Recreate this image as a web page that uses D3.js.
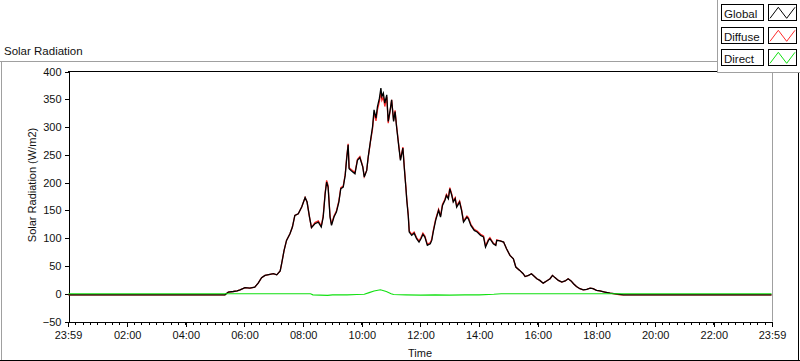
<!DOCTYPE html>
<html>
<head>
<meta charset="utf-8">
<script src="https://cdn.jsdelivr.net/npm/d3@7"></script>
<style>
  html, body { margin: 0; padding: 0; background: #fff; }
  svg { display: block; }
  text { font-family: "Liberation Sans", Arial, sans-serif; fill: #111; }
</style>
</head>
<body>
<svg id="chart" width="800" height="361"></svg>
<script>
// ---------------- DATA ----------------
const chartTitle = "Solar Radiation";
const yAxisTitle = "Solar Radiation (W/m2)";
const xAxisTitle = "Time";
const seriesNames = ["Global", "Diffuse", "Direct"];
const seriesColors = ["#000000", "#ff2a2a", "#11e011"];

const times = [
  "00:00","05:20","05:27","05:37","05:45","05:51","06:01","06:11","06:21","06:28",
  "06:35","06:42","06:52","06:59","07:06","07:13","07:16","07:21","07:26","07:33",
  "07:38","07:43","07:50","07:57","08:04","08:08","08:13","08:17","08:24","08:31",
  "08:37","08:41","08:45","08:48","08:51","08:55","08:58","09:03","09:08","09:13",
  "09:17","09:22","09:26","09:29","09:32","09:34","09:39","09:46","09:51","09:56",
  "10:02","10:05","10:10","10:13","10:18","10:22","10:25","10:29","10:32","10:36",
  "10:39","10:41","10:44","10:47","10:51","10:54","10:58","11:01","11:05","11:08",
  "11:11","11:16","11:19","11:24","11:27","11:30","11:32","11:35","11:37","11:42",
  "11:47","11:52","11:57","12:01","12:05","12:09","12:14","12:20","12:23","12:26",
  "12:31","12:37","12:41","12:45","12:50","12:53","12:57","13:00","13:04","13:07",
  "13:11","13:14","13:20","13:24","13:28","13:35","13:38","13:43","13:50","13:56",
  "14:03","14:09","14:13","14:19","14:22","14:29","14:34","14:36","14:43","14:50",
  "14:56","15:03","15:10","15:15","15:23","15:30","15:34","15:41","15:47","15:52",
  "15:58","16:04","16:11","16:18","16:25","16:30","16:35","16:42","16:49","16:56",
  "17:02","17:08","17:13","17:19","17:26","17:33","17:40","17:47","17:53","18:00",
  "18:07","18:17","18:28","18:48","18:55","23:58"
];

const globalVals = [
  -2, -2, 3, 4, 5, 7, 11, 10, 12, 19,
  29, 33, 35, 36, 34, 41, 54, 78, 96, 108,
  120, 141, 144, 156, 173, 165, 138, 119, 126, 129,
  120, 138, 180, 201, 192, 138, 123, 138, 147, 165,
  189, 192, 213, 243, 268, 225, 221, 216, 240, 245,
  228, 210, 222, 246, 277, 301, 331, 316, 337, 352,
  370, 355, 361, 343, 358, 310, 331, 349, 310, 328,
  301, 262, 240, 262, 225, 192, 168, 140, 111, 105,
  109, 99, 93, 99, 107, 102, 87, 90, 96, 111,
  132, 150, 138, 159, 168, 177, 171, 189, 177, 165,
  171, 156, 165, 150, 129, 138, 135, 123, 114, 111,
  105, 102, 84, 96, 99, 90, 87, 96, 95, 93,
  81, 69, 63, 48, 42, 36, 31, 33, 36, 32,
  27, 24, 19, 23, 27, 33, 29, 24, 21, 23,
  27, 23, 18, 13, 9, 7, 8, 10, 9, 6,
  5, 3, 1, -1, -2, -2
];

const diffuseVals = [
  -2, -2, 3, 4, 5, 7, 11, 10, 12, 19,
  29, 33, 35, 36, 34, 41, 54, 78, 96, 108,
  120, 141, 144, 156, 173, 165, 138, 119, 128, 131,
  122, 140, 182, 204, 195, 140, 125, 140, 149, 167,
  191, 194, 215, 245, 270, 227, 223, 218, 242, 247,
  229, 211, 222, 245, 275, 297, 326, 311, 331, 346,
  363, 348, 354, 337, 354, 307, 329, 349, 312, 330,
  303, 264, 242, 264, 227, 194, 170, 142, 113, 107,
  111, 101, 95, 101, 109, 104, 89, 92, 98, 113,
  134, 152, 140, 161, 170, 179, 173, 191, 179, 167,
  173, 158, 167, 152, 131, 140, 137, 125, 116, 113,
  107, 104, 86, 98, 101, 91, 88, 97, 95, 93,
  81, 69, 63, 48, 42, 36, 31, 33, 36, 32,
  27, 24, 19, 23, 27, 33, 29, 24, 21, 23,
  27, 23, 18, 13, 9, 7, 8, 10, 9, 6,
  5, 3, 1, -2, -2, -2
];

const directTimes = [
  "00:00","08:15","08:20","08:50","09:00","09:30","09:50","10:05","10:15","10:25",
  "10:38","10:50","11:00","11:05","11:30","12:00","12:30","13:00","13:30","14:00",
  "14:30","14:45","15:00","23:58"
];
const directVals = [
  0, 0, -2, -3, -2, -2, -1.5, -1, 2, 5,
  7, 4, 0, -1.5, -2, -2.5, -2, -2.5, -2, -2,
  -1, 0, 0, 0
];

const yTickValues = [-50, 0, 50, 100, 150, 200, 250, 300, 350, 400];
const xTickLabels = ["23:59","02:00","04:00","06:00","08:00","10:00","12:00","14:00","16:00","18:00","20:00","22:00","23:59"];
const minorTickStepMinutes = 15;

// ---------------- HELPERS ----------------
const toMin = s => { const [h, m] = s.split(":").map(Number); return h * 60 + m; };
const startMin = toMin(xTickLabels[0]) - 1440;   // 23:59 of the previous day
const endMin = toMin(xTickLabels[xTickLabels.length - 1]);
const majorTickMinutes = xTickLabels.map((l, i) => i === 0 ? startMin : toMin(l));
const minorTickMinutes = d3.range(startMin, endMin + 0.1, minorTickStepMinutes);

// ---------------- LAYOUT ----------------
const svg = d3.select("#chart");
const plot = { left: 68, right: 772, top: 71.5, bottom: 321.5 };

const x = d3.scaleLinear().domain([startMin, endMin]).range([plot.left, plot.right]);
const y = d3.scaleLinear().domain([-50, 400]).range([plot.bottom, plot.top]);

svg.append("rect").attr("width", 800).attr("height", 361).attr("fill", "#fff");

// outer frame (3D look)
svg.append("line").attr("x1", 0).attr("x2", 800).attr("y1", 61.5).attr("y2", 61.5).attr("stroke", "#a0a0a0");
svg.append("line").attr("x1", 1.5).attr("x2", 1.5).attr("y1", 61.5).attr("y2", 361).attr("stroke", "#a0a0a0");
svg.append("line").attr("x1", 0).attr("x2", 800).attr("y1", 360.5).attr("y2", 360.5).attr("stroke", "#000");
svg.append("line").attr("x1", 798.5).attr("x2", 798.5).attr("y1", 61.5).attr("y2", 361).attr("stroke", "#000");

// title
svg.append("text").attr("x", 4).attr("y", 55).style("font-size", "11.5px").text(chartTitle);

// plot frame top + right
svg.append("line").attr("x1", plot.left).attr("x2", plot.right).attr("y1", plot.top).attr("y2", plot.top).attr("stroke", "#000");
svg.append("line").attr("x1", plot.right + 0.5).attr("x2", plot.right + 0.5).attr("y1", plot.top).attr("y2", plot.bottom).attr("stroke", "#a0a0a0");

// ---------------- AXES ----------------
const yAxis = d3.axisLeft(y).tickValues(yTickValues).tickSize(4).tickSizeOuter(0).tickPadding(3);
const gy = svg.append("g").attr("transform", `translate(${plot.left + 0.5},0)`).call(yAxis);
gy.selectAll("text").style("font-size", "11px").attr("fill", "#111");
gy.selectAll("line, path").attr("stroke", "#000").attr("shape-rendering", "crispEdges");

const xMinor = d3.axisBottom(x).tickValues(minorTickMinutes).tickSize(3).tickSizeOuter(0).tickFormat("");
const gxm = svg.append("g").attr("transform", `translate(0,${plot.bottom})`).call(xMinor);
gxm.selectAll("line, path").attr("stroke", "#000").attr("shape-rendering", "crispEdges");

const xMajor = d3.axisBottom(x).tickValues(majorTickMinutes).tickSize(5).tickSizeOuter(0)
  .tickPadding(5).tickFormat((d, i) => xTickLabels[i]);
const gx = svg.append("g").attr("transform", `translate(0,${plot.bottom})`).call(xMajor);
gx.selectAll("text").style("font-size", "11px").attr("fill", "#111");
gx.selectAll("line, path").attr("stroke", "#000").attr("shape-rendering", "crispEdges");

// axis titles
svg.append("text").attr("x", (plot.left + plot.right) / 2).attr("y", 357)
  .attr("text-anchor", "middle").style("font-size", "11px").text(xAxisTitle);
svg.append("text").attr("transform", "translate(36,185) rotate(-90)")
  .attr("text-anchor", "middle").style("font-size", "11px").text(yAxisTitle);

// ---------------- LINES ----------------
const line = d3.line().x(d => x(d.t)).y(d => y(d.v));
const globalData = times.map((t, i) => ({ t: toMin(t), v: globalVals[i] }));
const diffuseData = times.map((t, i) => ({ t: toMin(t), v: diffuseVals[i] }));
const directData = directTimes.map((t, i) => ({ t: toMin(t), v: directVals[i] }));

const clip = svg.append("clipPath").attr("id", "plotclip").append("rect")
  .attr("x", plot.left).attr("y", plot.top).attr("width", plot.right - plot.left).attr("height", plot.bottom - plot.top);
const lines = svg.append("g").attr("clip-path", "url(#plotclip)");

lines.append("path").datum(diffuseData).attr("d", line).attr("fill", "none")
  .attr("stroke", seriesColors[1]).attr("stroke-width", 1.3);
lines.append("path").datum(globalData).attr("d", line).attr("fill", "none")
  .attr("stroke", seriesColors[0]).attr("stroke-width", 1.3);
lines.append("path").datum(directData).attr("d", line).attr("fill", "none")
  .attr("stroke", seriesColors[2]).attr("stroke-width", 1.1);

// ---------------- LEGEND ----------------
const lg = svg.append("g");
lg.append("rect").attr("x", 717).attr("y", 0).attr("width", 83).attr("height", 73).attr("fill", "#fff");
lg.append("line").attr("x1", 717.5).attr("x2", 717.5).attr("y1", 0).attr("y2", 73).attr("stroke", "#a0a0a0");
lg.append("line").attr("x1", 717.5).attr("x2", 800).attr("y1", 72.5).attr("y2", 72.5).attr("stroke", "#a0a0a0");
lg.append("line").attr("x1", 772.5).attr("x2", 772.5).attr("y1", 73).attr("y2", plot.top + 1).attr("stroke", "#a0a0a0");

const rowY = [4.5, 27.5, 49.5];
seriesNames.forEach((name, i) => {
  const y0 = rowY[i];
  lg.append("rect").attr("x", 721.5).attr("y", y0).attr("width", 42).attr("height", 16)
    .attr("fill", "#fff").attr("stroke", "#000");
  lg.append("text").attr("x", 724).attr("y", y0 + 13).style("font-size", "11.5px").text(name);
  lg.append("rect").attr("x", 768.5).attr("y", y0).attr("width", 28).attr("height", 16)
    .attr("fill", "#fff").attr("stroke", "#000");
  lg.append("path").attr("d", `M770,${y0 + 13.8}L778.3,${y0 + 2.8}L786.7,${y0 + 13.8}L795,${y0 + 2.8}`)
    .attr("fill", "none").attr("stroke", seriesColors[i]).attr("stroke-width", 1);
});
</script>
</body>
</html>
